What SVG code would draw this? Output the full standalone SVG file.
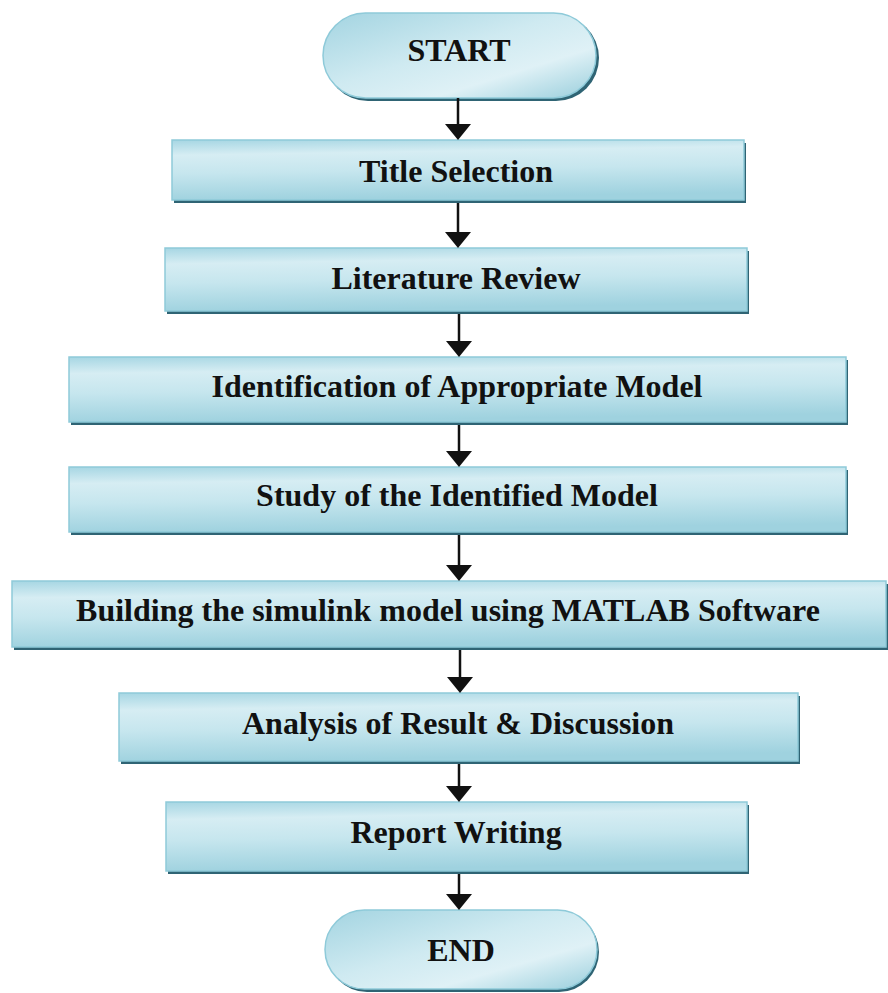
<svg xmlns="http://www.w3.org/2000/svg" width="888" height="993" viewBox="0 0 888 993">
<defs>
<linearGradient id="g" x1="0" y1="0" x2="0.15" y2="1">
<stop offset="0" stop-color="#a6d6e3"/>
<stop offset="0.25" stop-color="#d6edf3"/>
<stop offset="0.55" stop-color="#c6e6ee"/>
<stop offset="1" stop-color="#9fd2df"/>
</linearGradient>
<linearGradient id="gp" x1="0" y1="0" x2="1" y2="1">
<stop offset="0" stop-color="#a3d4e1"/>
<stop offset="0.45" stop-color="#cfeaf1"/>
<stop offset="0.7" stop-color="#dff1f6"/>
<stop offset="1" stop-color="#99cedc"/>
</linearGradient>
</defs>
<style>
.sh{fill:#2f6474}
.box{fill:url(#g);stroke:#8ecad9;stroke-width:1.5}
.pill{fill:url(#gp);stroke:#8ecad9;stroke-width:1.5}
.t{font-family:"Liberation Serif","Times New Roman",serif;font-weight:bold;font-size:32px;fill:#111;text-anchor:middle}
.ln{stroke:#111;stroke-width:2.5;fill:none}
.hd{fill:#111}
</style>
<rect width="888" height="993" fill="#fff"/>
<g id="start">
<rect class="sh" x="325" y="15" width="274" height="86" rx="43"/>
<rect class="pill" x="323" y="13" width="273" height="85" rx="42.5"/>
<text class="t" x="459" y="61">START</text>
</g>
<g id="title">
<rect class="sh" x="174" y="143" width="572" height="60"/>
<rect class="box" x="172" y="140" width="572" height="60"/>
<text class="t" x="456" y="182">Title Selection</text>
</g>
<g id="literature">
<rect class="sh" x="167" y="251" width="582" height="63"/>
<rect class="box" x="165" y="248" width="582" height="63"/>
<text class="t" x="456" y="289">Literature Review</text>
</g>
<g id="identification">
<rect class="sh" x="71" y="360" width="777" height="65"/>
<rect class="box" x="69" y="357" width="777" height="65"/>
<text class="t" x="457" y="397">Identification of Appropriate Model</text>
</g>
<g id="study">
<rect class="sh" x="71" y="470" width="777" height="65"/>
<rect class="box" x="69" y="467" width="777" height="65"/>
<text class="t" x="457" y="506">Study of the Identified Model</text>
</g>
<g id="building">
<rect class="sh" x="14" y="584" width="874" height="66"/>
<rect class="box" x="12" y="581" width="874" height="66"/>
<text class="t" x="448" y="621">Building the simulink model using MATLAB Software</text>
</g>
<g id="analysis">
<rect class="sh" x="121" y="696" width="679" height="68"/>
<rect class="box" x="119" y="693" width="679" height="68"/>
<text class="t" x="458" y="734">Analysis of Result &amp; Discussion</text>
</g>
<g id="report">
<rect class="sh" x="168" y="805" width="581" height="69"/>
<rect class="box" x="166" y="802" width="581" height="69"/>
<text class="t" x="456" y="843">Report Writing</text>
</g>
<g id="end">
<rect class="sh" x="327" y="912" width="272" height="80" rx="40"/>
<rect class="pill" x="325" y="910" width="272" height="79" rx="39.5"/>
<text class="t" x="461" y="961">END</text>
</g>
<g id="connectors">
<path class="ln" d="M458 98V126"/><path class="hd" d="M445 124H471L458 140Z"/>
<path class="ln" d="M458 203V234"/><path class="hd" d="M445 232H471L458 248Z"/>
<path class="ln" d="M459 314V343"/><path class="hd" d="M446 341H472L459 357Z"/>
<path class="ln" d="M459 425V453"/><path class="hd" d="M446 451H472L459 467Z"/>
<path class="ln" d="M459 535V567"/><path class="hd" d="M446 565H472L459 581Z"/>
<path class="ln" d="M460 650V679"/><path class="hd" d="M447 677H473L460 693Z"/>
<path class="ln" d="M459 764V788"/><path class="hd" d="M446 786H472L459 802Z"/>
<path class="ln" d="M459 874V896"/><path class="hd" d="M446 894H472L459 910Z"/>
</g>
</svg>
